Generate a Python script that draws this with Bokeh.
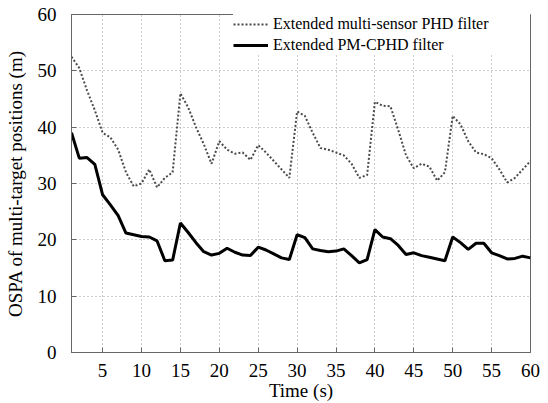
from bokeh.plotting import figure
from bokeh.models import Range1d, FixedTicker, Legend, LegendItem
from bokeh.embed import file_html
from bokeh.resources import INLINE

time_s = list(range(1, 61))
phd = [52.5, 50.5, 46.5, 43.0, 39.0, 38.2, 36.0, 32.0, 29.5, 30.0,
       32.5, 29.3, 31.0, 32.0, 46.0, 43.5, 40.0, 37.0, 33.5, 37.5,
       36.0, 35.3, 35.5, 34.2, 36.8, 35.5, 34.0, 32.5, 31.0, 42.8,
       42.0, 39.0, 36.3, 36.0, 35.5, 35.0, 33.5, 31.0, 31.5, 44.5,
       43.8, 43.7, 39.5, 35.0, 32.7, 33.5, 33.0, 30.5, 32.0, 42.0,
       40.5, 37.5, 35.5, 35.2, 34.5, 32.5, 30.2, 31.0, 32.5, 34.0]
pmcphd = [39.0, 34.5, 34.6, 33.4, 28.0, 26.2, 24.3, 21.2, 20.9, 20.6,
          20.5, 19.8, 16.3, 16.4, 23.0, 21.3, 19.5, 17.9, 17.3, 17.6,
          18.5, 17.8, 17.3, 17.2, 18.7, 18.2, 17.5, 16.8, 16.5, 20.9,
          20.4, 18.4, 18.1, 17.9, 18.0, 18.4, 17.2, 15.9, 16.5, 21.8,
          20.5, 20.2, 19.0, 17.4, 17.7, 17.2, 16.9, 16.6, 16.3, 20.5,
          19.5, 18.3, 19.4, 19.4, 17.7, 17.2, 16.6, 16.7, 17.1, 16.8]
x_ticks = [5, 10, 15, 20, 25, 30, 35, 40, 45, 50, 55, 60]
y_ticks = [0, 10, 20, 30, 40, 50, 60]
labels = ["Extended multi-sensor PHD filter", "Extended PM-CPHD filter"]

FONT = "Liberation Serif"

p = figure(frame_width=459, frame_height=338,
           min_border_left=71, min_border_right=16,
           min_border_top=14, min_border_bottom=49,
           x_range=Range1d(1, 60), y_range=Range1d(0, 60),
           output_backend="svg", toolbar_location=None,
           background_fill_color="white", border_fill_color="white")

p.outline_line_color = "#666666"
p.outline_line_width = 1

for ax in (p.xaxis[0], p.yaxis[0]):
    ax.axis_line_color = "#666666"
    ax.major_tick_line_color = "#666666"
    ax.major_tick_in = 5
    ax.major_tick_out = 0
    ax.minor_tick_line_color = None
    ax.major_label_text_font = FONT
    ax.major_label_text_font_size = "19px"
    ax.major_label_text_color = "black"
    ax.axis_label_text_font = FONT
    ax.axis_label_text_font_size = "19px"
    ax.axis_label_text_font_style = "normal"
    ax.axis_label_text_color = "black"

p.xaxis.ticker = FixedTicker(ticks=x_ticks)
p.yaxis.ticker = FixedTicker(ticks=y_ticks)
p.xaxis.axis_label = "Time (s)"
p.yaxis.axis_label = "OSPA of multi-target positions (m)"
p.xaxis.major_label_standoff = 11
p.xaxis.axis_label_standoff = 0
p.yaxis.major_label_standoff = 15
p.yaxis.axis_label_standoff = 9

p.grid.grid_line_color = "#9a9a9a"
p.grid.grid_line_dash = "1 3"
p.grid.grid_line_width = 1

r1 = p.line(time_s, phd, line_color="#4a4a4a", line_width=2, line_dash="2 2")
r2 = p.line(time_s, pmcphd, line_color="black", line_width=3)

legend = Legend(items=[LegendItem(label=labels[0], renderers=[r1]),
                       LegendItem(label=labels[1], renderers=[r2])],
                location="top_right", margin=0, padding=6, spacing=1,
                glyph_width=35, glyph_height=20, label_height=20,
                label_standoff=5, label_width=257,
                label_text_font=FONT, label_text_font_size="16px",
                label_text_color="black",
                background_fill_color="white", background_fill_alpha=1.0,
                border_line_color=None)
p.add_layout(legend)

open("out.html", "w").write(file_html(p, INLINE))
